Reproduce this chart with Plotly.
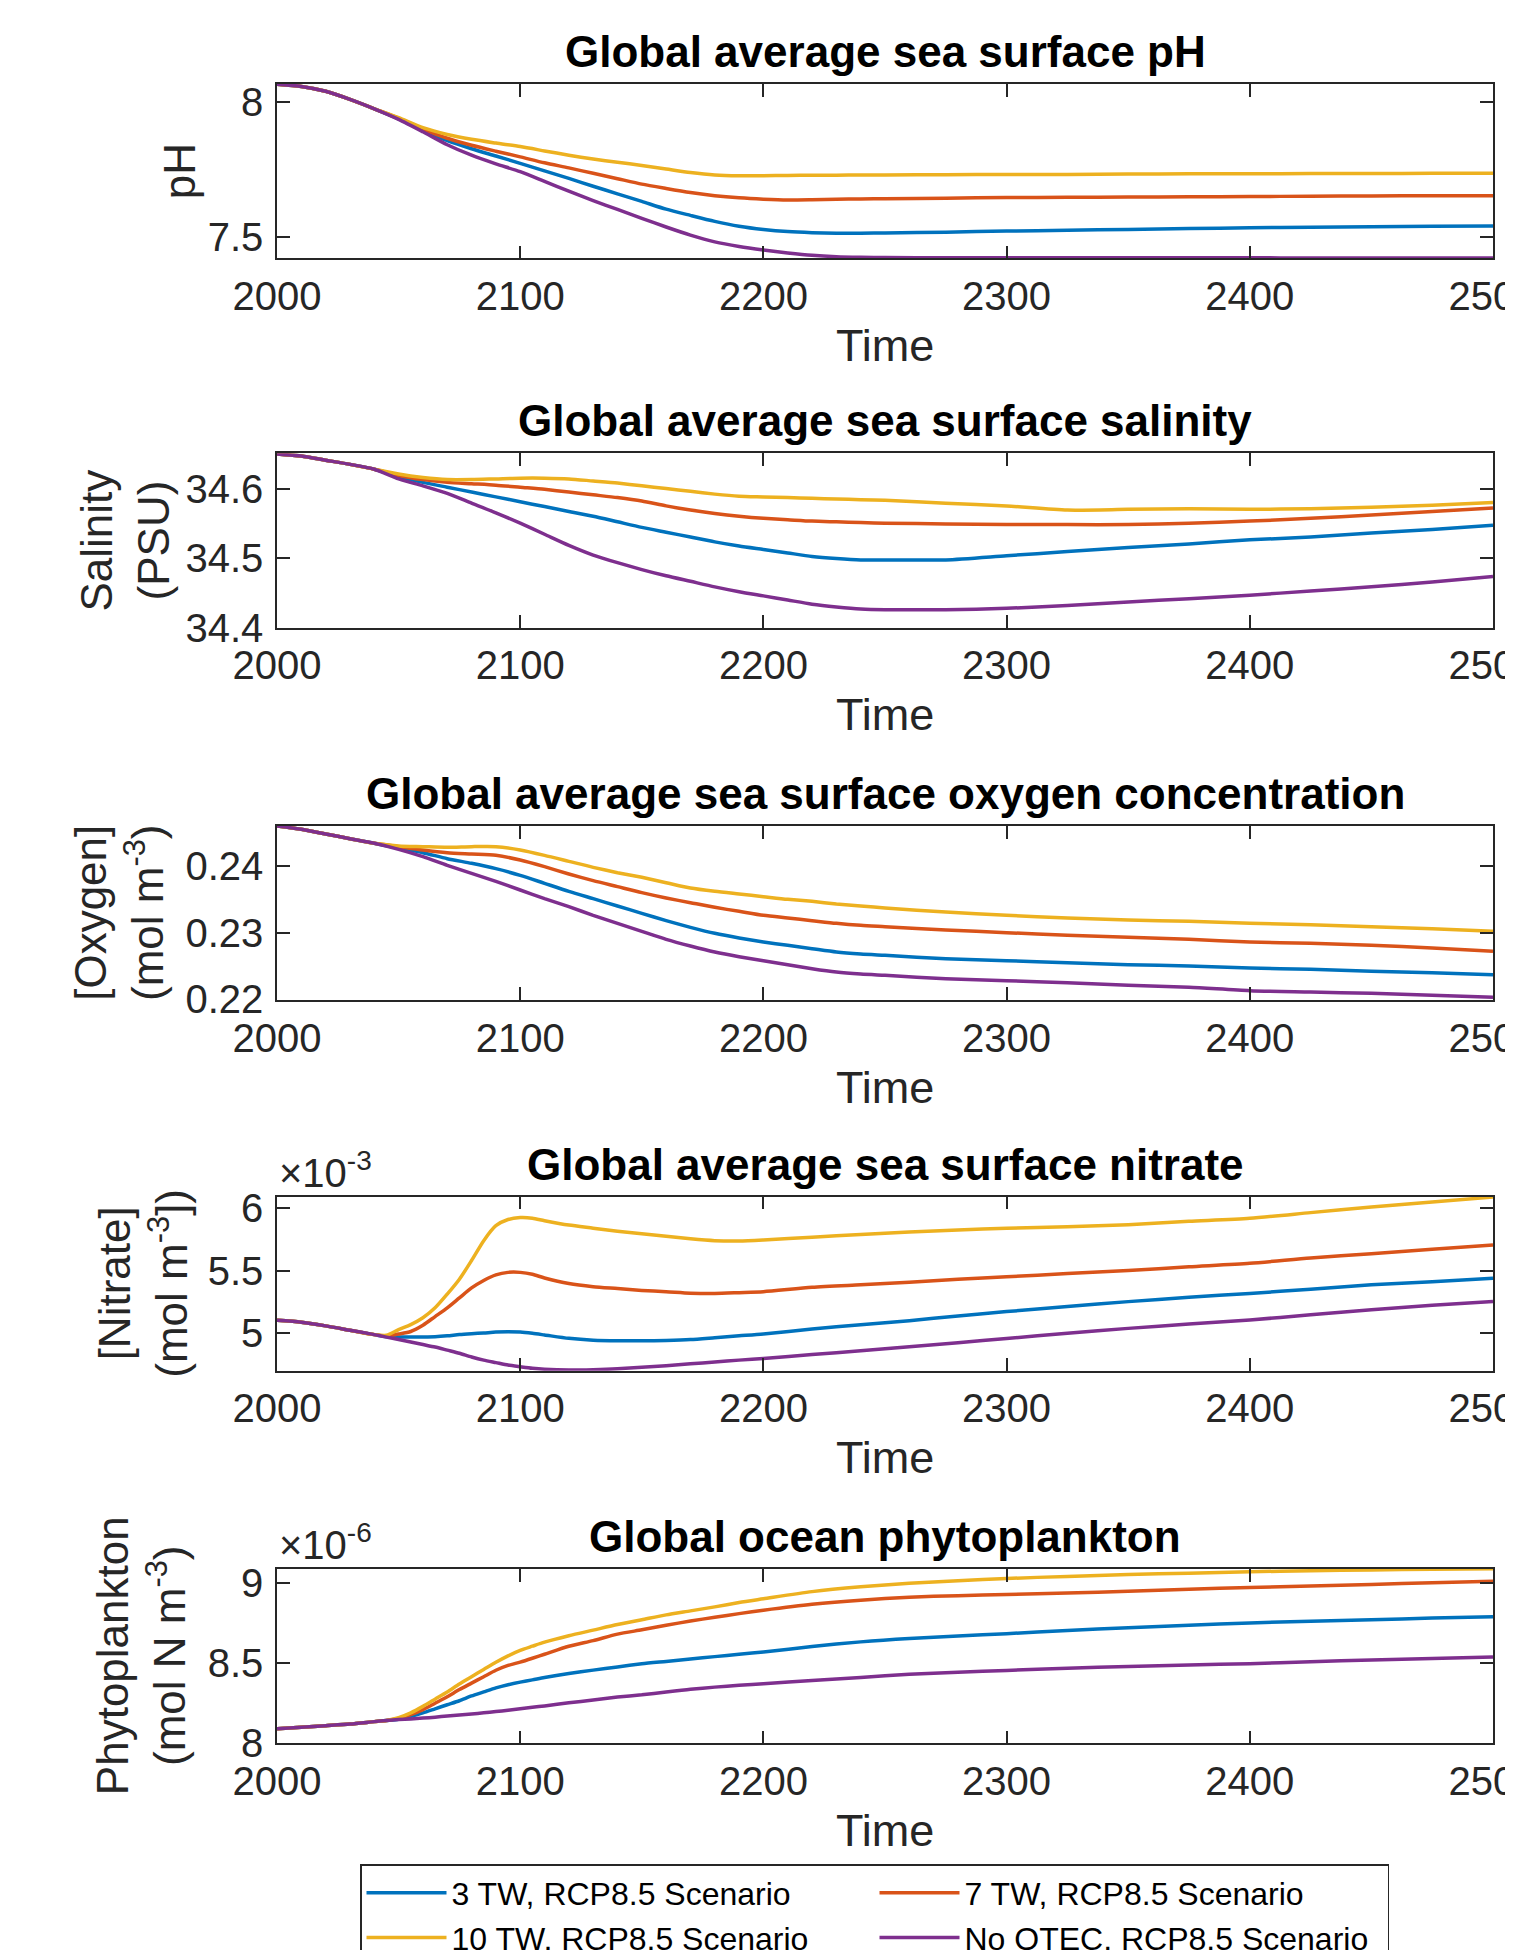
import plotly.graph_objects as go

# ---------------- data ----------------
YEARS = [2000, 2010, 2020, 2030, 2040, 2050, 2060, 2070, 2080, 2090, 2100, 2110, 2120, 2130,
         2140, 2150, 2160, 2170, 2180, 2190, 2200, 2210, 2220, 2230, 2240, 2250, 2275, 2300,
         2325, 2350, 2375, 2400, 2425, 2450, 2475, 2500]

PH_3TW = [8.066, 8.058, 8.040, 8.010, 7.975, 7.938, 7.895, 7.857, 7.827, 7.800, 7.773, 7.745,
          7.717, 7.688, 7.660, 7.632, 7.603, 7.580, 7.558, 7.540, 7.528, 7.520, 7.516, 7.514,
          7.514, 7.515, 7.518, 7.522, 7.525, 7.528, 7.531, 7.534, 7.536, 7.538, 7.540, 7.541]
PH_7TW = [8.066, 8.058, 8.040, 8.010, 7.975, 7.940, 7.900, 7.866, 7.840, 7.818, 7.797, 7.775,
          7.756, 7.736, 7.716, 7.696, 7.680, 7.665, 7.653, 7.645, 7.640, 7.637, 7.638, 7.640,
          7.641, 7.642, 7.644, 7.646, 7.647, 7.648, 7.649, 7.650, 7.651, 7.652, 7.653, 7.653]
PH_10TW = [8.066, 8.058, 8.040, 8.010, 7.975, 7.942, 7.905, 7.880, 7.862, 7.848, 7.835, 7.819,
           7.803, 7.789, 7.777, 7.765, 7.752, 7.739, 7.730, 7.727, 7.727, 7.728, 7.729, 7.729,
           7.730, 7.730, 7.731, 7.732, 7.732, 7.733, 7.734, 7.734, 7.735, 7.735, 7.736, 7.736]
PH_NONE = [8.066, 8.058, 8.040, 8.010, 7.975, 7.936, 7.890, 7.842, 7.803, 7.771, 7.742, 7.706,
           7.670, 7.635, 7.602, 7.569, 7.537, 7.507, 7.482, 7.465, 7.452, 7.441, 7.432, 7.427,
           7.425, 7.424, 7.423, 7.423, 7.423, 7.423, 7.423, 7.423, 7.422, 7.422, 7.422, 7.422]

SAL_3TW = [34.651, 34.648, 34.642, 34.636, 34.629, 34.618, 34.610, 34.603, 34.596, 34.589, 34.582,
           34.575, 34.568, 34.561, 34.553, 34.545, 34.538, 34.531, 34.524, 34.518, 34.513, 34.508,
           34.503, 34.500, 34.498, 34.498, 34.498, 34.504, 34.510, 34.516, 34.521, 34.527, 34.531,
           34.537, 34.542, 34.548]
SAL_7TW = [34.651, 34.648, 34.642, 34.636, 34.629, 34.620, 34.614, 34.610, 34.608, 34.606, 34.603,
           34.600, 34.596, 34.592, 34.588, 34.583, 34.576, 34.570, 34.565, 34.561, 34.558, 34.556,
           34.554, 34.553, 34.552, 34.551, 34.550, 34.549, 34.549, 34.549, 34.551, 34.554, 34.558,
           34.563, 34.568, 34.573]
SAL_10TW = [34.651, 34.648, 34.642, 34.636, 34.629, 34.622, 34.617, 34.614, 34.614, 34.615, 34.616,
            34.616, 34.615, 34.612, 34.609, 34.605, 34.601, 34.597, 34.593, 34.590, 34.589, 34.588,
            34.587, 34.586, 34.585, 34.584, 34.580, 34.576, 34.570, 34.571, 34.572, 34.571, 34.572,
            34.574, 34.577, 34.581]
SAL_NONE = [34.651, 34.648, 34.642, 34.636, 34.629, 34.615, 34.605, 34.594, 34.580, 34.566, 34.551,
            34.535, 34.519, 34.505, 34.494, 34.484, 34.475, 34.467, 34.459, 34.452, 34.446, 34.440,
            34.434, 34.430, 34.427, 34.426, 34.426, 34.428, 34.432, 34.437, 34.442, 34.447, 34.453,
            34.459, 34.466, 34.474]

OXY_3TW = [0.2460, 0.2455, 0.2448, 0.2441, 0.2434, 0.2427, 0.2420, 0.2411, 0.2404, 0.2396, 0.2386,
           0.2374, 0.2362, 0.2351, 0.2340, 0.2329, 0.2318, 0.2308, 0.2299, 0.2292, 0.2286, 0.2281,
           0.2276, 0.2271, 0.2268, 0.2266, 0.2261, 0.2258, 0.2255, 0.2252, 0.2250, 0.2247, 0.2245,
           0.2242, 0.2240, 0.2237]
OXY_7TW = [0.2460, 0.2455, 0.2448, 0.2441, 0.2434, 0.2429, 0.2424, 0.2420, 0.2418, 0.2416, 0.2409,
           0.2399, 0.2388, 0.2378, 0.2369, 0.2360, 0.2352, 0.2345, 0.2338, 0.2332, 0.2326, 0.2322,
           0.2318, 0.2314, 0.2311, 0.2309, 0.2304, 0.2300, 0.2296, 0.2293, 0.2290, 0.2286, 0.2284,
           0.2281, 0.2277, 0.2272]
OXY_10TW = [0.2460, 0.2455, 0.2448, 0.2441, 0.2434, 0.2430, 0.2429, 0.2428, 0.2429, 0.2429, 0.2424,
            0.2416, 0.2407, 0.2398, 0.2390, 0.2383, 0.2375, 0.2367, 0.2362, 0.2358, 0.2354, 0.2350,
            0.2347, 0.2343, 0.2340, 0.2337, 0.2331, 0.2326, 0.2322, 0.2319, 0.2317, 0.2314, 0.2312,
            0.2309, 0.2306, 0.2302]
OXY_NONE = [0.2460, 0.2455, 0.2448, 0.2441, 0.2434, 0.2425, 0.2414, 0.2401, 0.2389, 0.2377, 0.2364,
            0.2351, 0.2339, 0.2326, 0.2314, 0.2302, 0.2290, 0.2280, 0.2271, 0.2264, 0.2258, 0.2252,
            0.2246, 0.2241, 0.2238, 0.2236, 0.2231, 0.2228, 0.2225, 0.2221, 0.2218, 0.2213, 0.2211,
            0.2209, 0.2206, 0.2203]

# nitrate and phytoplankton are sampled more densely around the 2050-2110 transition
YEARS_FINE = [2000, 2010, 2020, 2030, 2040, 2045, 2050, 2055, 2060, 2065, 2070, 2075, 2080, 2085,
              2090, 2095, 2100, 2105, 2110, 2120, 2130, 2140, 2150, 2160, 2170, 2180, 2190, 2200,
              2220, 2240, 2260, 2280, 2300, 2325, 2350, 2375, 2400, 2425, 2450, 2475, 2500]

# nitrate in units of 1e-3 mol m^-3
NIT_3TW = [5.100, 5.085, 5.055, 5.020, 4.985, 4.968, 4.965, 4.965, 4.966, 4.968, 4.975, 4.985, 4.992,
           4.998, 5.005, 5.008, 5.005, 4.995, 4.982, 4.955, 4.940, 4.935, 4.935, 4.938, 4.945, 4.960,
           4.975, 4.990, 5.030, 5.065, 5.097, 5.135, 5.170, 5.210, 5.250, 5.285, 5.316, 5.350, 5.385,
           5.410, 5.437]
NIT_7TW = [5.100, 5.085, 5.055, 5.020, 4.985, 4.975, 4.990, 5.010, 5.060, 5.130, 5.200, 5.280, 5.360,
           5.420, 5.465, 5.485, 5.485, 5.470, 5.440, 5.395, 5.370, 5.355, 5.340, 5.330, 5.318, 5.315,
           5.322, 5.330, 5.365, 5.385, 5.405, 5.430, 5.450, 5.475, 5.500, 5.530, 5.558, 5.600, 5.635,
           5.670, 5.705]
NIT_10TW = [5.100, 5.085, 5.055, 5.020, 4.985, 4.980, 5.025, 5.065, 5.120, 5.200, 5.310, 5.430, 5.580,
            5.740, 5.860, 5.910, 5.925, 5.920, 5.900, 5.865, 5.840, 5.815, 5.795, 5.775, 5.755, 5.740,
            5.737, 5.745, 5.768, 5.790, 5.810, 5.825, 5.840, 5.852, 5.868, 5.895, 5.920, 5.965, 6.010,
            6.050, 6.090]
NIT_NONE = [5.100, 5.085, 5.055, 5.020, 4.985, 4.965, 4.945, 4.925, 4.905, 4.885, 4.860, 4.835, 4.805,
            4.780, 4.760, 4.740, 4.727, 4.715, 4.707, 4.700, 4.703, 4.710, 4.722, 4.735, 4.750, 4.765,
            4.780, 4.794, 4.825, 4.855, 4.888, 4.920, 4.954, 4.995, 5.035, 5.070, 5.102, 5.145, 5.185,
            5.220, 5.250]

# phytoplankton in units of 1e-6 mol N m^-3
PHY_3TW = [8.090, 8.100, 8.110, 8.120, 8.135, 8.142, 8.150, 8.168, 8.190, 8.215, 8.240, 8.265, 8.295,
           8.320, 8.345, 8.365, 8.381, 8.395, 8.410, 8.435, 8.456, 8.476, 8.495, 8.510, 8.525, 8.540,
           8.555, 8.569, 8.603, 8.632, 8.653, 8.668, 8.683, 8.703, 8.720, 8.735, 8.750, 8.760, 8.770,
           8.780, 8.788]
PHY_7TW = [8.090, 8.100, 8.110, 8.120, 8.135, 8.142, 8.155, 8.178, 8.210, 8.250, 8.290, 8.335, 8.375,
           8.415, 8.455, 8.485, 8.506, 8.530, 8.555, 8.605, 8.640, 8.680, 8.707, 8.735, 8.762, 8.785,
           8.808, 8.829, 8.866, 8.892, 8.910, 8.920, 8.927, 8.937, 8.947, 8.960, 8.971, 8.980, 8.990,
           9.000, 9.010]
PHY_10TW = [8.090, 8.100, 8.110, 8.120, 8.135, 8.142, 8.160, 8.190, 8.230, 8.275, 8.320, 8.370, 8.415,
            8.460, 8.505, 8.545, 8.579, 8.605, 8.630, 8.670, 8.705, 8.740, 8.770, 8.800, 8.825, 8.850,
            8.877, 8.900, 8.945, 8.975, 8.997, 9.013, 9.027, 9.040, 9.052, 9.060, 9.069, 9.075, 9.080,
            9.085, 9.088]
PHY_NONE = [8.090, 8.100, 8.110, 8.120, 8.135, 8.142, 8.148, 8.152, 8.157, 8.163, 8.170, 8.177, 8.183,
            8.190, 8.198, 8.206, 8.215, 8.224, 8.233, 8.252, 8.270, 8.288, 8.302, 8.320, 8.337, 8.350,
            8.362, 8.371, 8.392, 8.410, 8.430, 8.443, 8.454, 8.468, 8.478, 8.488, 8.496, 8.508, 8.519,
            8.528, 8.537]

SERIES_NAMES = ["3 TW, RCP8.5 Scenario", "7 TW, RCP8.5 Scenario",
                "10 TW, RCP8.5 Scenario", "No OTEC, RCP8.5 Scenario"]
COLORS = ["#0072BD", "#D95319", "#EDB120", "#7E2F8E"]

X_TICKS = [2000, 2100, 2200, 2300, 2400, 2500]
X_TICKTEXT = ["2000", "2100", "2200", "2300", "2400", "2500"]

PANELS = [
    dict(title="Global average sea surface pH", ylabel="pH", x=YEARS,
         ys=[PH_3TW, PH_7TW, PH_10TW, PH_NONE], yrange=[7.421, 8.067],
         yticks=[7.5, 8], yticktext=["7.5", "8"], exp=None),
    dict(title="Global average sea surface salinity", ylabel="Salinity<br>(PSU)", x=YEARS,
         ys=[SAL_3TW, SAL_7TW, SAL_10TW, SAL_NONE], yrange=[34.4, 34.652],
         yticks=[34.4, 34.5, 34.6], yticktext=["34.4", "34.5", "34.6"], exp=None),
    dict(title="Global average sea surface oxygen concentration",
         ylabel="[Oxygen]<br>(mol m<sup>-3</sup>)", x=YEARS,
         ys=[OXY_3TW, OXY_7TW, OXY_10TW, OXY_NONE], yrange=[0.2199, 0.2460],
         yticks=[0.22, 0.23, 0.24], yticktext=["0.22", "0.23", "0.24"], exp=None),
    dict(title="Global average sea surface nitrate",
         ylabel="[Nitrate]<br>(mol m<sup>-3</sup>])", x=YEARS_FINE,
         ys=[NIT_3TW, NIT_7TW, NIT_10TW, NIT_NONE], yrange=[4.695, 6.093],
         yticks=[5, 5.5, 6], yticktext=["5", "5.5", "6"], exp="×10<sup>-3</sup>"),
    dict(title="Global ocean phytoplankton",
         ylabel="Phytoplankton<br>(mol N m<sup>-3</sup>)", x=YEARS_FINE,
         ys=[PHY_3TW, PHY_7TW, PHY_10TW, PHY_NONE], yrange=[8.0, 9.086],
         yticks=[8, 8.5, 9], yticktext=["8", "8.5", "9"], exp="×10<sup>-6</sup>"),
]

# ---------------- layout geometry (pixels of the final 1513x1950 page) ----------------
PAGE_W, PAGE_H = 1513, 1950
OFF = 8                      # default body margin of the html page
FW, FH = PAGE_W - OFF, PAGE_H - OFF
ML = 120                     # left margin (keeps the legend wrapping into two columns)
GW = FW - ML
PLOT_L, PLOT_R = 277, 1493
BOXES = [(84, 258.3), (453.3, 627.7), (826, 1000), (1196.7, 1370.7), (1569, 1743.3)]
YLABEL_X = [179, 124, 119, 143, 141]
FONT = "Liberation Sans, Arial, Helvetica, sans-serif"
AX_COLOR = "#262626"


def px_x(x):
    return (x - OFF - ML) / GW


def px_y(y):
    return 1 - (y - OFF) / FH


fig = go.Figure()
annotations = []
layout = {}

for i, p in enumerate(PANELS):
    k = i + 1
    xa = "x" if k == 1 else f"x{k}"
    ya = "y" if k == 1 else f"y{k}"
    for j in range(4):
        fig.add_trace(go.Scatter(
            x=p["x"], y=p["ys"][j], mode="lines", name=SERIES_NAMES[j],
            line=dict(color=COLORS[j], width=3.5, shape="spline", smoothing=0.7),
            xaxis=xa, yaxis=ya, showlegend=(k == 1), legendgroup=SERIES_NAMES[j]))
    top, bot = BOXES[i]
    axis_common = dict(showline=True, linecolor=AX_COLOR, linewidth=1.5, mirror="ticks",
                       ticks="inside", ticklen=13, tickwidth=1.5, tickcolor=AX_COLOR,
                       showgrid=False, zeroline=False, automargin=False,
                       tickfont=dict(family=FONT, size=40, color=AX_COLOR))
    layout["xaxis" if k == 1 else f"xaxis{k}"] = dict(
        domain=[px_x(PLOT_L), px_x(PLOT_R)], range=[2000, 2500], anchor=ya,
        tickvals=X_TICKS, ticktext=X_TICKTEXT, ticklabelstandoff=2,
        ticklabeloverflow="allow", **axis_common)
    layout["yaxis" if k == 1 else f"yaxis{k}"] = dict(
        domain=[px_y(bot), px_y(top)], range=p["yrange"], anchor=xa,
        tickvals=p["yticks"], ticktext=p["yticktext"], ticklabelstandoff=4, **axis_common)

    # title
    annotations.append(dict(text=f"<b>{p['title']}</b>", x=px_x((PLOT_L + PLOT_R) / 2),
                            y=px_y(top), xref="paper", yref="paper", xanchor="center",
                            yanchor="bottom", yshift=6, showarrow=False,
                            font=dict(family=FONT, size=44, color="#000000")))
    # x label
    annotations.append(dict(text="Time", x=px_x((PLOT_L + PLOT_R) / 2), y=px_y(bot + 87),
                            xref="paper", yref="paper", xanchor="center", yanchor="middle",
                            showarrow=False, font=dict(family=FONT, size=45, color=AX_COLOR)))
    # y label
    annotations.append(dict(text=p["ylabel"], x=px_x(YLABEL_X[i]), y=px_y((top + bot) / 2),
                            xref="paper", yref="paper", xanchor="center", yanchor="middle",
                            textangle=-90, showarrow=False,
                            font=dict(family=FONT, size=44, color=AX_COLOR)))
    if p["exp"]:
        annotations.append(dict(text=p["exp"], x=px_x(PLOT_L), y=px_y(top), xref="paper",
                                yref="paper", xanchor="left", yanchor="bottom", yshift=0,
                                showarrow=False,
                                font=dict(family=FONT, size=40, color=AX_COLOR)))

layout.update(
    width=FW, height=FH, margin=dict(l=ML, r=0, t=0, b=0, autoexpand=False),
    paper_bgcolor="white", plot_bgcolor="white",
    annotations=annotations,
    legend=dict(orientation="h", x=px_x(360), xanchor="left", y=px_y(1864), yanchor="top",
                bordercolor=AX_COLOR, borderwidth=1.5, bgcolor="white",
                font=dict(family=FONT, size=32, color="#000000"),
                entrywidth=418, itemwidth=80, traceorder="normal", tracegroupgap=0),
    showlegend=True,
)
fig.update_layout(**layout)
fig.write_html("out.html")
